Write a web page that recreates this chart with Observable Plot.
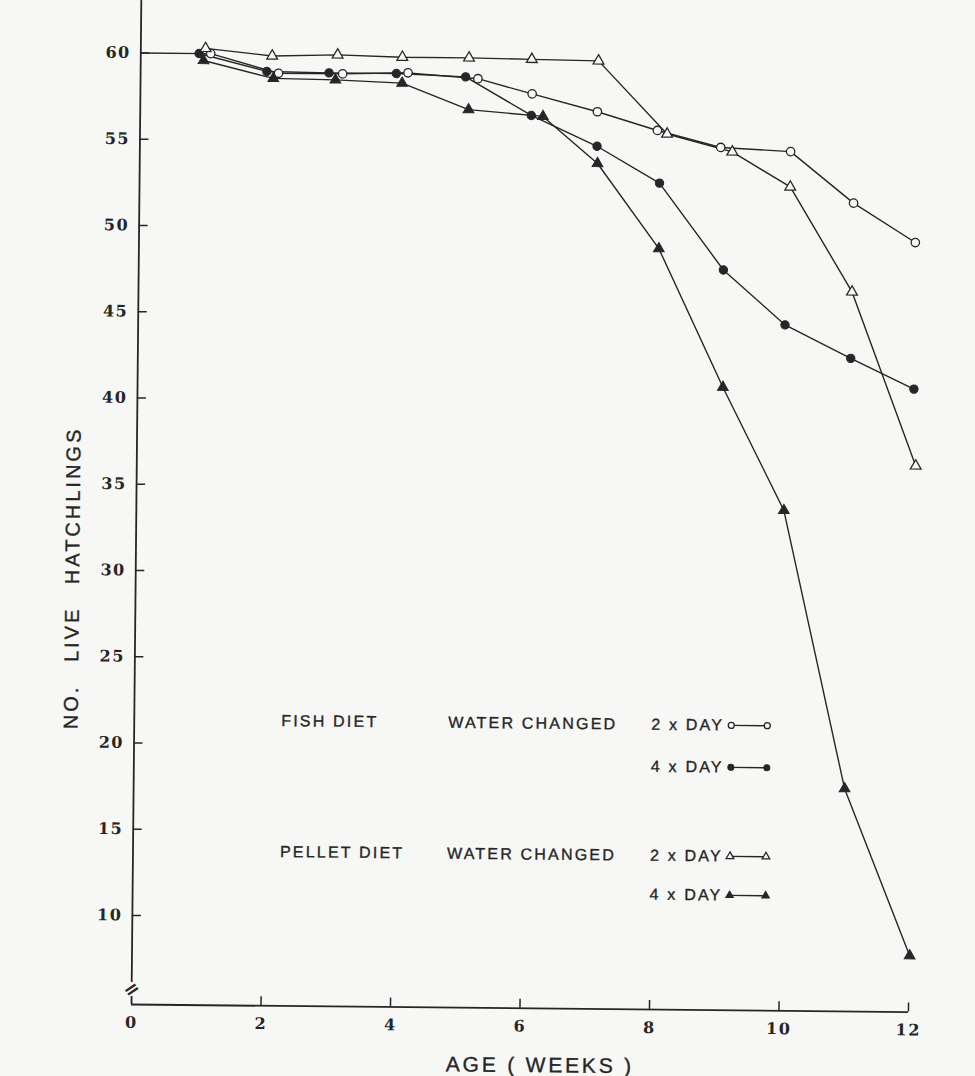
<!DOCTYPE html>
<html>
<head>
<meta charset="utf-8">
<script src="https://cdn.jsdelivr.net/npm/d3@7"></script>
<script src="https://cdn.jsdelivr.net/npm/@observablehq/plot@0.6"></script>
<style>
  html, body { margin: 0; padding: 0; background: #f7f7f5; }
  #chart { width: 975px; height: 1076px; overflow: hidden; position: relative; }
  /* the scanned original is tilted by about half a degree; reproduce that tilt */
  #chart svg { display: block; transform-origin: 130px 1004px; transform: rotate(0.56deg); }
</style>
</head>
<body>
<div id="chart"></div>
<script>
// ---------------- data ----------------
const xTicks = [0, 2, 4, 6, 8, 10, 12];
const yTicks = [10, 15, 20, 25, 30, 35, 40, 45, 50, 55, 60];

// starting stock shared by all four treatments
const startWeeks = [0, 1];
const startCount = [60, 60];

// FISH DIET, water changed 2 x day (open circles)
const fish2Weeks = [1.08, 2.13, 3.12, 4.13, 5.21, 6.05, 7.06, 7.99, 8.97, 10.05, 11.03, 11.99];
const fish2Count = [60.0, 58.9, 58.9, 59.0, 58.7, 57.85, 56.85, 55.8, 54.85, 54.65, 51.7, 49.45];

// FISH DIET, water changed 4 x day (filled circles)
const fish4Weeks = [0.9, 1.95, 2.91, 3.95, 5.02, 6.04, 7.06, 8.03, 9.03, 9.99, 11.01, 11.99];
const fish4Count = [60.0, 59.0, 58.95, 58.95, 58.8, 56.6, 54.85, 52.75, 47.75, 44.6, 42.7, 40.95];

// PELLET DIET, water changed 2 x day (open triangles)
const pellet2Weeks = [1.0, 2.03, 3.04, 4.04, 5.07, 6.04, 7.07, 8.14, 9.15, 10.05, 11.02, 12.03];
const pellet2Count = [60.3, 59.9, 60.0, 59.9, 59.9, 59.85, 59.8, 55.6, 54.6, 52.6, 46.55, 36.5];

// PELLET DIET, water changed 4 x day (filled triangles)
const pellet4Weeks = [0.97, 2.05, 3.01, 4.04, 5.07, 6.22, 7.07, 8.03, 9.04, 10.0, 10.98, 12.01];
const pellet4Count = [59.6, 58.6, 58.55, 58.4, 56.9, 56.55, 53.85, 48.95, 40.95, 33.85, 17.75, 8.1];

// legend texts
const legendDiet = ["FISH DIET", "", "PELLET DIET", ""];
const legendWater = ["WATER CHANGED", "", "WATER CHANGED", ""];
const legendFreq = ["2 x DAY", "4 x DAY", "2 x DAY", "4 x DAY"];

// ---------------- layout ----------------
const W = 975, H = 1076;
const X0 = 131, X12 = 908;          // pixel of week 0 and week 12
const Y60 = 52.4, PX_PER_UNIT = 17.25, AXIS_Y = 1004;
const pxX = px => (px - X0) / (X12 - X0) * 12;
const pxY = py => 60 - (py - Y60) / PX_PER_UNIT;
const yMin = pxY(AXIS_Y), yMax = pxY(0);

const ink = "#262626";
const bg = "#f7f7f5";

const series = [
  {key: "fish2", weeks: fish2Weeks, counts: fish2Count, symbol: "circle", filled: false},
  {key: "fish4", weeks: fish4Weeks, counts: fish4Count, symbol: "circle", filled: true},
  {key: "pellet2", weeks: pellet2Weeks, counts: pellet2Count, symbol: "triangle", filled: false},
  {key: "pellet4", weeks: pellet4Weeks, counts: pellet4Count, symbol: "triangle", filled: true}
];
const rows = series.flatMap(s => s.weeks.map((w, i) => ({series: s.key, week: w, count: s.counts[i], symbol: s.symbol, filled: s.filled})));
const startRows = startWeeks.map((w, i) => ({week: w, count: startCount[i]}));

// legend layout (pixels)
const legRowY = [719, 761, 850, 889];
const legDietX = 278, legWaterX = 445, legFreqX = 648, legSym1 = 728, legSym2 = 764;
const legend = legendFreq.map((f, i) => ({
  diet: legendDiet[i], water: legendWater[i], freq: f,
  symbol: series[i].symbol, filled: series[i].filled,
  y: pxY(legRowY[i])
}));
const legendEnds = legend.flatMap(d => [{...d, x: pxX(legSym1)}, {...d, x: pxX(legSym2)}]);

const dotMarks = (data, r) => [
  Plot.dot(data.filter(d => d.symbol === "circle" && !d.filled), {x: "x", y: "y", symbol: "circle", r, fill: bg, stroke: ink, strokeWidth: 1.3}),
  Plot.dot(data.filter(d => d.symbol === "circle" && d.filled), {x: "x", y: "y", symbol: "circle", r, fill: ink, stroke: ink, strokeWidth: 1}),
  Plot.dot(data.filter(d => d.symbol === "triangle" && !d.filled), {x: "x", y: "y", symbol: "triangle", r: r * 0.95, fill: bg, stroke: ink, strokeWidth: 1.3}),
  Plot.dot(data.filter(d => d.symbol === "triangle" && d.filled), {x: "x", y: "y", symbol: "triangle", r: r * 0.95, fill: ink, stroke: ink, strokeWidth: 1})
];

const pts = rows.map(d => ({...d, x: d.week, y: d.count}));
const heavy = {fill: ink, stroke: ink, strokeWidth: 0.35};

const plot = Plot.plot({
  width: W,
  height: H,
  marginLeft: X0,
  marginRight: W - X12,
  marginTop: 0,
  marginBottom: H - AXIS_Y,
  style: {background: bg, fontFamily: "Liberation Sans, Arial, sans-serif", color: ink},
  x: {domain: [0, 12]},
  y: {domain: [yMin, yMax]},
  marks: [
    // axes lines, with a break near the bottom of the y axis
    Plot.ruleX([0], {y1: pxY(982), y2: yMax, stroke: ink, strokeWidth: 1.8}),
    Plot.ruleX([0], {y1: yMin, y2: pxY(996), stroke: ink, strokeWidth: 1.8}),
    Plot.text(["="], {x: 0, y: pxY(989), rotate: -35, fontSize: 19, fontWeight: "bold", fill: ink, fontFamily: "DejaVu Sans"}),
    Plot.ruleY([yMin], {x1: 0, x2: 12, stroke: ink, strokeWidth: 1.8}),
    // inward ticks
    Plot.ruleY(yTicks, {x1: 0, x2: pxX(X0 + 9), stroke: ink, strokeWidth: 1.5}),
    Plot.ruleX(xTicks.filter(d => d > 0), {y1: yMin, y2: pxY(AXIS_Y - 9), stroke: ink, strokeWidth: 1.5}),
    Plot.axisY({ticks: yTicks, tickSize: 0, tickPadding: 10, label: null, fontSize: 16, fontWeight: "bold", fontFamily: "DejaVu Serif", color: ink}),
    Plot.axisX({ticks: xTicks, tickSize: 0, tickPadding: 12, label: null, fontSize: 16, fontWeight: "bold", fontFamily: "DejaVu Serif", color: ink}),
    // axis titles
    Plot.text(["NO. LIVE HATCHLINGS"], {x: pxX(68), y: pxY(578), rotate: -90, fontSize: 20, fontFamily: "Liberation Sans", ...heavy}),
    Plot.text(["AGE ( WEEKS )"], {x: pxX(540), y: pxY(1061), fontSize: 21, fontFamily: "Liberation Sans", ...heavy}),
    // data
    Plot.line(startRows, {x: "week", y: "count", stroke: ink, strokeWidth: 1.4}),
    Plot.line(rows, {x: "week", y: "count", z: "series", stroke: ink, strokeWidth: 1.4}),
    ...dotMarks(pts, 4.2),
    // legend
    Plot.text(legend.filter(d => d.diet), {x: pxX(legDietX), y: "y", text: "diet", textAnchor: "start", fontSize: 16, ...heavy}),
    Plot.text(legend.filter(d => d.water), {x: pxX(legWaterX), y: "y", text: "water", textAnchor: "start", fontSize: 16, ...heavy}),
    Plot.text(legend, {x: pxX(legFreqX), y: "y", text: "freq", textAnchor: "start", fontSize: 16, ...heavy}),
    Plot.link(legend, {x1: pxX(legSym1), x2: pxX(legSym2), y1: "y", y2: "y", stroke: ink, strokeWidth: 1.4}),
    ...dotMarks(legendEnds, 3)
  ]
});

document.getElementById("chart").appendChild(plot);

// letter spacing like the original lettering
d3.select(plot).selectAll('g[aria-label="y-axis tick label"] text, g[aria-label="x-axis tick label"] text')
  .attr("letter-spacing", 1.5);
d3.select(plot).selectAll("text").each(function () {
  const t = this.textContent;
  const s = d3.select(this);
  if (t === "NO. LIVE HATCHLINGS") s.attr("letter-spacing", 3).attr("word-spacing", 14);
  else if (t === "AGE ( WEEKS )") s.attr("letter-spacing", 2.8);
  else if (legendDiet.includes(t) || legendWater.includes(t) || legendFreq.includes(t)) s.attr("letter-spacing", 2.2);
});
</script>
</body>
</html>
